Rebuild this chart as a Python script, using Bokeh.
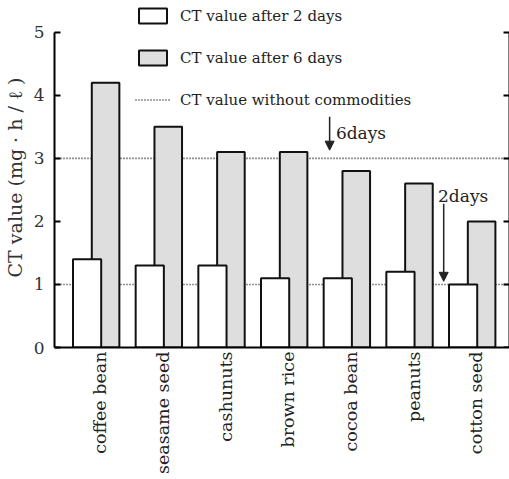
import math
import numpy as np
from bokeh.plotting import figure
from bokeh.models import (Range1d, LinearAxis, FixedTicker, Legend, LegendItem,
                          Label, Arrow, NormalHead, ColumnDataSource)
from bokeh.embed import file_html
from bokeh.resources import INLINE

# ---- data ----
commodities = ["coffee bean", "seasame seed", "cashunuts", "brown rice",
               "cocoa bean", "peanuts", "cotton seed"]
ct_2days = [1.4, 1.3, 1.3, 1.1, 1.1, 1.2, 1.0]
ct_6days = [4.2, 3.5, 3.1, 3.1, 2.8, 2.6, 2.0]
ct_without = [1.0, 3.0]   # CT value without commodities (after 2 and 6 days)
y_ticks = [0, 1, 2, 3, 4, 5]

FONT = "DejaVu Serif"
INK = "#222222"

n = len(commodities)
idx = np.arange(n)
X_END = 7.26
Y_TOP = 5.393

p = figure(width=510, height=477, output_backend="svg", toolbar_location=None,
           x_range=Range1d(0, X_END), y_range=Range1d(0, Y_TOP),
           x_axis_location=None, y_axis_location=None,
           min_border_left=49, min_border_right=1, min_border_top=7,
           min_border_bottom=100)
p.outline_line_color = None
p.xgrid.visible = False
p.ygrid.visible = False
p.background_fill_color = "white"
p.border_fill_color = "white"

# reference lines (without commodities)
ref = p.segment(x0=[0] * len(ct_without), x1=[X_END] * len(ct_without),
                y0=ct_without, y1=ct_without, line_color=INK,
                line_width=1.6, line_dash="1 2")

src = ColumnDataSource(dict(x2=idx + 0.52, x6=idx + 0.815,
                            t2=ct_2days, t6=ct_6days))
b6 = p.vbar(x="x6", top="t6", width=0.44, bottom=0, source=src,
            fill_color="#dedede", line_color="#111111", line_width=2)
b2 = p.vbar(x="x2", top="t2", width=0.45, bottom=0, source=src,
            fill_color="white", line_color="#111111", line_width=2)

# axes
yl = LinearAxis(bounds=(0, 5), ticker=FixedTicker(ticks=y_ticks),
                axis_label="CT value (mg · h / ℓ )")
yl.major_tick_in = 6
yl.major_tick_out = 0
yl.minor_tick_in = 0
yl.minor_tick_out = 0
yl.axis_line_width = 2
yl.major_tick_line_width = 2
yl.major_label_standoff = 10
yl.major_label_text_font = FONT
yl.major_label_text_font_size = "17px"
yl.major_label_text_color = "#333333"
yl.axis_label_text_font = FONT
yl.axis_label_text_font_size = "19px"
yl.axis_label_text_font_style = "normal"
yl.axis_label_text_color = "#333333"
yl.axis_label_standoff = 5
p.add_layout(yl, "left")

yr = LinearAxis(bounds=(0, 5), ticker=FixedTicker(ticks=y_ticks),
                fixed_location=X_END)
yr.major_label_overrides = {t: "" for t in y_ticks}
yr.major_tick_in = 6
yr.major_tick_out = 0
yr.minor_tick_in = 0
yr.minor_tick_out = 0
yr.axis_line_width = 2
yr.major_tick_line_width = 2
p.add_layout(yr, "right")

label_pos = [float(v) for v in idx + 0.73]
xb = LinearAxis(ticker=FixedTicker(ticks=label_pos))
xb.major_label_overrides = {k: c for k, c in zip(label_pos, commodities)}
xb.major_tick_in = 0
xb.major_tick_out = 0
xb.minor_tick_in = 0
xb.minor_tick_out = 0
xb.axis_line_width = 2
xb.major_label_orientation = math.pi / 2
xb.major_label_standoff = 4
xb.major_label_text_font = FONT
xb.major_label_text_font_size = "17.5px"
xb.major_label_text_color = INK
p.add_layout(xb, "below")

# legend
legend = Legend(items=[
    LegendItem(label="CT value after 2 days", renderers=[b2]),
    LegendItem(label="CT value after 6 days", renderers=[b6]),
    LegendItem(label="CT value without commodities", renderers=[ref]),
], location=(81, 238), orientation="vertical")
legend.glyph_width = 35
legend.glyph_height = 19
legend.label_height = 19
legend.spacing = 23
legend.padding = 0
legend.margin = 0
legend.label_standoff = 10
legend.label_text_font = FONT
legend.label_text_font_size = "15px"
legend.label_text_color = INK
legend.background_fill_alpha = 0
legend.border_line_color = None
p.add_layout(legend, "center")

# annotations
for (xs, ys, ye) in [(4.39, 3.66, 3.13), (6.21, 2.28, 1.05)]:
    p.add_layout(Arrow(end=NormalHead(size=9, fill_color=INK, line_color=INK),
                       x_start=xs, y_start=ys, x_end=xs, y_end=ye,
                       line_color=INK, line_width=1.5))
p.add_layout(Label(x=4.49, y=3.41, text="6days", text_font=FONT,
                   text_font_size="17px", text_color=INK, text_baseline="middle"))
p.add_layout(Label(x=6.12, y=2.41, text="2days", text_font=FONT,
                   text_font_size="17px", text_color=INK, text_baseline="middle"))

open("out.html", "w").write(file_html(p, INLINE))
